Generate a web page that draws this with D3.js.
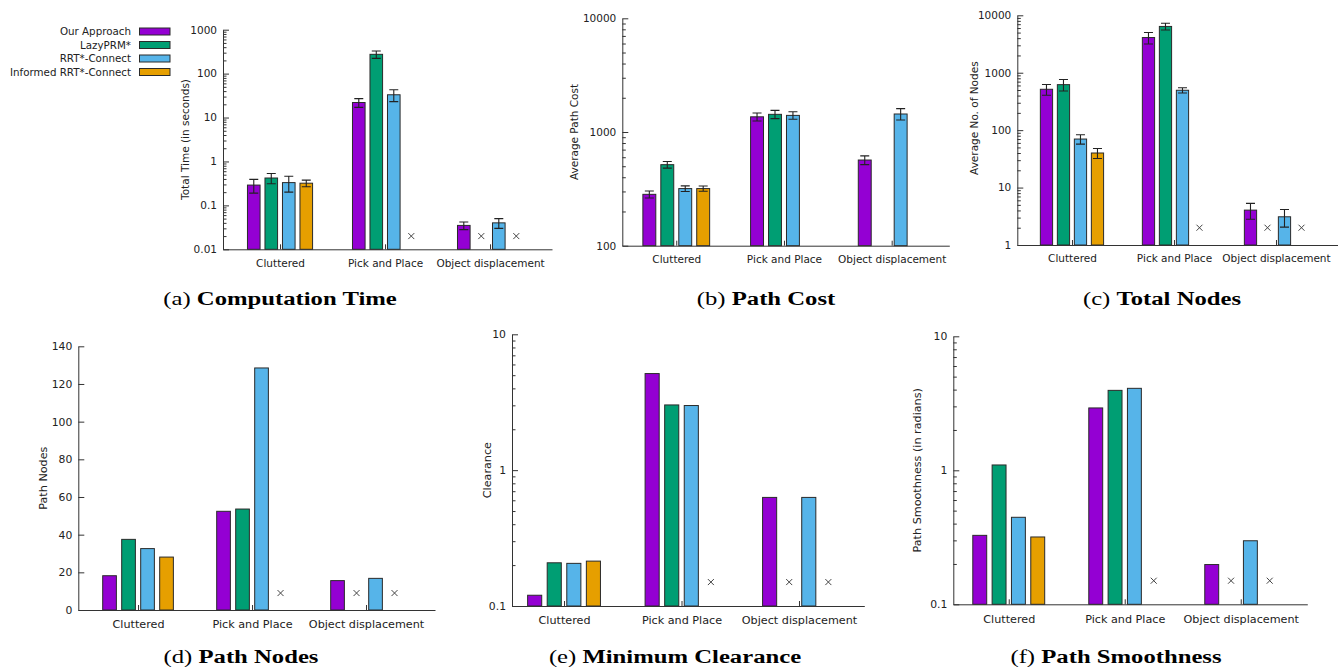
<!DOCTYPE html>
<html>
<head>
<meta charset="utf-8">
<script src="https://cdn.jsdelivr.net/npm/d3@7"></script>
<style>
  html, body { margin: 0; padding: 0; background: #fff; }
  svg { display: block; }
</style>
</head>
<body>
<svg id="fig"></svg>
<script>
/* ══════════════════════════════════════════════════════
   Planner benchmark figure — six gnuplot-style panels
   rows = scenario, cols = planner, null = planner failed
══════════════════════════════════════════════════════ */

// ── Data ─────────────────────────────────────────────

const categories = ['Cluttered', 'Pick and Place', 'Object displacement'];
const planners   = ['Our Approach', 'LazyPRM*', 'RRT*-Connect', 'Informed RRT*-Connect'];

const timeMean  = [[0.29, 0.42, 0.33, 0.32], [22, 275, 33, null], [0.035, null, 0.04, null]];
const timeErr   = [[0.10, 0.11, 0.13, 0.055], [5, 53, 10, null], [0.007, null, 0.01, null]];
const timeTicks = [0.01, 0.1, 1, 10, 100, 1000];
const timeFail  = 0.02;

const costMean  = [[283, 516, 318, 318], [1360, 1430, 1400, null], [567, null, 1440, null]];
const costErr   = [[20, 35, 18, 17], [110, 120, 105, null], [50, null, 165, null]];
const costTicks = [100, 1000, 10000];
const costFail  = null;

const nodesMean  = [[515, 620, 70, 40], [4100, 6400, 495, null], [4.05, null, 3.1, null]];
const nodesErr   = [[110, 140, 13, 8], [930, 870, 52, null], [1.25, null, 1.05, null]];
const nodesTicks = [1, 10, 100, 1000, 10000];
const nodesFail  = 2;

const pathNodes      = [[18.2, 37.5, 32.6, 28.1], [52.4, 53.6, 128.5, null], [15.6, null, 16.8, null]];
const pathNodesTicks = [0, 20, 40, 60, 80, 100, 120, 140];
const pathNodesFail  = 9;

const clearance      = [[0.12, 0.208, 0.206, 0.214], [5.14, 3.02, 2.99, null], [0.63, null, 0.63, null]];
const clearanceTicks = [0.1, 1, 10];
const clearanceFail  = 0.15;

const smoothness      = [[0.327, 1.096, 0.446, 0.318], [2.92, 3.95, 4.09, null], [0.198, null, 0.298, null]];
const smoothnessTicks = [0.1, 1, 10];
const smoothnessFail  = 0.15;

// ── Style / layout ───────────────────────────────────

const PALETTE = ['#9400d3', '#009e73', '#56b4e9', '#e69f00'];
const INK     = '#222';
const SANS    = '"DejaVu Sans", sans-serif';
const SERIF   = '"Liberation Serif", "Times New Roman", serif';

const panels = [
  { tag: '(a)', title: 'Computation Time', yLabel: 'Total Time (in seconds)',
    mean: timeMean, err: timeErr, ticks: timeTicks, fail: timeFail, log: true,
    box: { l: 223, t: 29.7, r: 552, b: 249.3 }, xDom: [-0.543, 2.59],
    labelX: 185, labelDy: 0, capX: 280, capY: 305, font: 10.5, catFont: 10.5 },
  { tag: '(b)', title: 'Path Cost', yLabel: 'Average Path Cost',
    mean: costMean, err: costErr, ticks: costTicks, fail: costFail, log: true,
    box: { l: 622.3, t: 18.3, r: 949.3, b: 245.7 }, xDom: [-0.501, 2.535],
    labelX: 574, labelDy: 0, capX: 766, capY: 305, font: 10.5, catFont: 10.5 },
  { tag: '(c)', title: 'Total Nodes', yLabel: 'Average No. of Nodes',
    mean: nodesMean, err: nodesErr, ticks: nodesTicks, fail: nodesFail, log: true,
    box: { l: 1017.3, t: 15.3, r: 1337.7, b: 245 }, xDom: [-0.536, 2.605],
    labelX: 974, labelDy: -12, capX: 1162, capY: 305, font: 10.5, catFont: 10.5 },
  { tag: '(d)', title: 'Path Nodes', yLabel: 'Path Nodes',
    mean: pathNodes, err: null, ticks: pathNodesTicks, fail: pathNodesFail, log: false,
    box: { l: 78.3, t: 346.3, r: 435, b: 610 }, xDom: [-0.524, 2.605],
    labelX: 43.3, labelDy: 0, capX: 241, capY: 663, font: 10.8, catFont: 11.2 },
  { tag: '(e)', title: 'Minimum Clearance', yLabel: 'Clearance',
    mean: clearance, err: null, ticks: clearanceTicks, fail: clearanceFail, log: true,
    box: { l: 512, t: 334.3, r: 864.3, b: 606 }, xDom: [-0.443, 2.556],
    labelX: 486.7, labelDy: 0, capX: 675, capY: 663, font: 10.8, catFont: 11.2 },
  { tag: '(f)', title: 'Path Smoothness', yLabel: 'Path Smoothness (in radians)',
    mean: smoothness, err: null, ticks: smoothnessTicks, fail: smoothnessFail, log: true,
    box: { l: 953.3, t: 336.3, r: 1307.3, b: 604.3 }, xDom: [-0.478, 2.574],
    labelX: 917.3, labelDy: 0, capX: 1116, capY: 663, font: 10.8, catFont: 11.2 },
];

const SLOTS   = 6;      // 4 planners + 2 gap slots per cluster
const BAR_W   = 0.72;   // fraction of one slot
const slotOff = k => (k - (planners.length - 1) / 2) / SLOTS;

const svg = d3.select('#fig')
  .attr('width', 1338)
  .attr('height', 670)
  .attr('viewBox', '0 0 1338 670');

svg.append('rect').attr('width', 1338).attr('height', 670).attr('fill', '#fff');

// ── Panel ────────────────────────────────────────────

function drawPanel(p) {
  const g = svg.append('g');
  const { l, t, r, b } = p.box;

  const x = d3.scaleLinear().domain(p.xDom).range([l, r]);
  const y = (p.log ? d3.scaleLog() : d3.scaleLinear())
    .domain(d3.extent(p.ticks))
    .range([b, t]);

  const bw = (x(1 / SLOTS) - x(0)) * BAR_W;

  const cells = p.mean.flatMap((row, i) => row.map((v, k) => ({
    i, k, v, e: p.err ? p.err[i][k] : null,
  })));
  const present = cells.filter(d => d.v != null);
  const missing = cells.filter(d => d.v == null);

  // bars
  g.selectAll('rect.bar')
    .data(present)
    .join('rect')
      .attr('class', 'bar')
      .attr('x', d => x(d.i + slotOff(d.k)) - bw / 2)
      .attr('y', d => y(d.v))
      .attr('width', bw)
      .attr('height', d => b - y(d.v))
      .attr('fill', d => PALETTE[d.k])
      .attr('stroke', '#2a2a2a')
      .attr('stroke-width', 1);

  // error bars
  const withErr = present.filter(d => d.e != null);
  const capHalf = 4.5;
  g.selectAll('path.err')
    .data(withErr)
    .join('path')
      .attr('class', 'err')
      .attr('d', d => {
        const cx = x(d.i + slotOff(d.k));
        const y0 = y(d.v - d.e), y1 = y(d.v + d.e);
        return `M${cx},${y0}V${y1}M${cx - capHalf},${y0}H${cx + capHalf}M${cx - capHalf},${y1}H${cx + capHalf}`;
      })
      .attr('fill', 'none')
      .attr('stroke', INK)
      .attr('stroke-width', 1.1);

  // failed planners
  if (p.fail != null) {
    const s = 3;
    g.selectAll('path.fail')
      .data(missing)
      .join('path')
        .attr('class', 'fail')
        .attr('d', d => {
          const cx = x(d.i + slotOff(d.k)), cy = y(p.fail);
          return `M${cx - s},${cy - s}L${cx + s},${cy + s}M${cx - s},${cy + s}L${cx + s},${cy - s}`;
        })
        .attr('fill', 'none')
        .attr('stroke', '#444')
        .attr('stroke-width', 1);
  }

  // ── Axes ────────────────────────────
  const styleAxis = sel => sel
    .call(ax => ax.select('.domain').attr('stroke', '#333').attr('stroke-width', 1))
    .call(ax => ax.selectAll('.tick line').attr('stroke', '#333'))
    .call(ax => ax.selectAll('text')
      .attr('fill', INK)
      .attr('font-family', SANS));

  if (p.log) {
    const minor = y.ticks().filter(v => !p.ticks.some(m => Math.abs(m - v) / m < 1e-6));
    g.append('g')
      .attr('transform', `translate(${l},0)`)
      .call(d3.axisLeft(y).tickValues(minor).tickSize(-3.5).tickSizeOuter(0).tickFormat(''))
      .call(styleAxis)
      .call(ax => ax.select('.domain').remove());
  }

  g.append('g')
    .attr('transform', `translate(${l},0)`)
    .call(d3.axisLeft(y).tickValues(p.ticks).tickSize(-6).tickSizeOuter(0)
      .tickPadding(6).tickFormat(d => String(d)))
    .call(styleAxis)
    .call(ax => ax.selectAll('text').attr('font-size', p.font));

  g.append('g')
    .attr('transform', `translate(0,${b})`)
    .call(d3.axisBottom(x).tickValues(d3.range(categories.length)).tickSize(-5)
      .tickSizeOuter(0).tickPadding(p.catFont > 11 ? 10.5 : 10).tickFormat(i => categories[i]))
    .call(styleAxis)
    .call(ax => ax.selectAll('text').attr('font-size', p.catFont));

  // y title
  g.append('text')
    .attr('transform', `translate(${p.labelX},${(t + b) / 2 + p.labelDy}) rotate(-90)`)
    .attr('text-anchor', 'middle')
    .attr('dy', '0.35em')
    .attr('fill', INK)
    .attr('font-family', SANS)
    .attr('font-size', p.catFont)
    .text(p.yLabel);

  // caption
  const cap = svg.append('text')
    .attr('transform', `translate(${p.capX},${p.capY}) scale(1.3,1)`)
    .attr('text-anchor', 'middle')
    .attr('fill', '#000')
    .attr('font-family', SERIF)
    .attr('font-size', 19);
  cap.append('tspan').text(p.tag + ' ');
  cap.append('tspan').attr('font-weight', 'bold').text(p.title);
}

panels.forEach(drawPanel);

// ── Legend (sits left of panel a) ─────────────────────

const legend = svg.append('g').attr('transform', 'translate(0,31.5)');
const rowY = d3.scalePoint().domain(planners).range([0, 40.5]);

legend.selectAll('text')
  .data(planners)
  .join('text')
    .attr('x', 131)
    .attr('y', d => rowY(d))
    .attr('dy', '0.35em')
    .attr('text-anchor', 'end')
    .attr('fill', INK)
    .attr('font-family', SANS)
    .attr('font-size', 10.3)
    .text(d => d);

legend.selectAll('rect')
  .data(planners)
  .join('rect')
    .attr('x', 139.5)
    .attr('y', d => rowY(d) - 3.5)
    .attr('width', 30.5)
    .attr('height', 7)
    .attr('fill', (d, i) => PALETTE[i])
    .attr('stroke', '#2a2a2a')
    .attr('stroke-width', 1);
</script>
</body>
</html>
